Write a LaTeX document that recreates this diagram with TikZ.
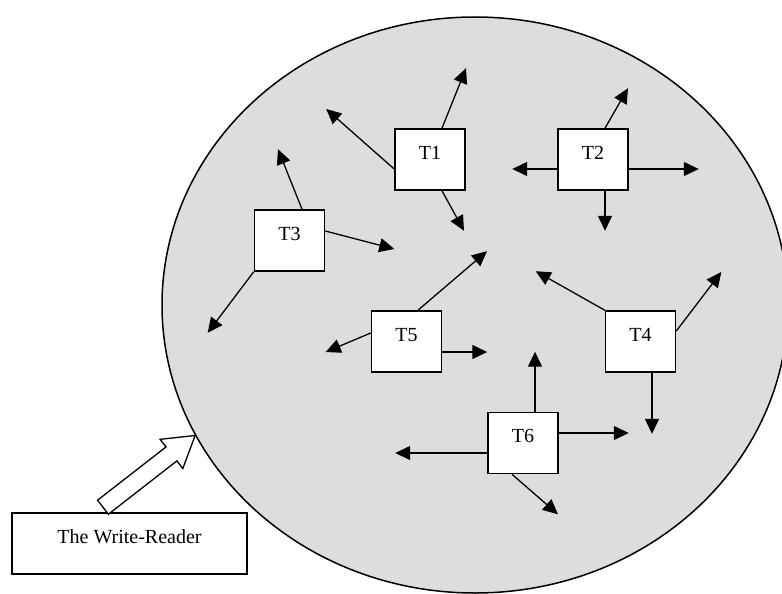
\documentclass[tikz,border=0pt]{standalone}
\usepackage{fontspec}
\setmainfont{Liberation Serif}
\usetikzlibrary{arrows.meta,shapes.geometric,calc}
\definecolor{poolgray}{RGB}{221,221,221}

\begin{document}
\begin{tikzpicture}[x=1pt,y=-1pt,
  tbox/.style={draw,line width=1.6pt,fill=white,minimum width=70pt,inner xsep=0pt,inner ysep=0pt,
    text height=30pt,text depth=31pt,font=\fontsize{20}{24}\selectfont},
  flow/.style={line width=1.3pt,-{Triangle[length=15pt,width=14pt]}},
  hollow/.style={draw,line width=1.3pt,fill=white}]
  \useasboundingbox (0,0) rectangle (782,594);
  \node[ellipse,draw,line width=1.5pt,fill=poolgray,minimum width=626pt,minimum height=576pt,inner sep=0pt] (pool) at (475,305) {};
  \node[tbox] (T1) at (430,159.5) {T1};
  \node[tbox] (T2) at (593,159.5) {T2};
  \node[tbox] (T3) at (289.5,240.5) {T3};
  \node[tbox] (T5) at (406.5,341.5) {T5};
  \node[tbox] (T4) at (640.5,341.5) {T4};
  \node[tbox] (T6) at (523,443) {T6};
  \draw[flow] ([xshift=12pt]T1.north) -- ++(24,-60);
  \draw[flow] ([yshift=-9.5pt]T1.west) -- ++(-68,-60);
  \draw[flow] ([xshift=12pt]T1.south) -- ++(22,40);
  \draw[flow] ([xshift=12pt]T2.north) -- ++(23,-40);
  \draw[flow] ([yshift=-9.5pt]T2.west) -- ++(-45,0);
  \draw[flow] ([yshift=-9.5pt]T2.east) -- ++(70,0);
  \draw[flow] ([xshift=12pt]T2.south) -- ++(0,40);
  \draw[flow] ([xshift=12.5pt]T3.north) -- ++(-24,-60);
  \draw[flow] ([yshift=9.5pt]T3.east) -- ++(69,18);
  \draw[flow] (T3.south west) -- ++(-46,61);
  \draw[flow] ([xshift=11.5pt]T5.north) -- ++(69,-59);
  \draw[flow] ([yshift=8.5pt]T5.west) -- ++(-45,19);
  \draw[flow] ([yshift=-10.5pt]T5.east) -- ++(45,0);
  \draw[flow] (T4.north west) -- ++(-69,-39);
  \draw[flow] ([yshift=10.5pt]T4.east) -- ++(45,-59);
  \draw[flow] ([xshift=11.5pt]T4.south) -- ++(0,61);
  \draw[flow] ([xshift=12pt]T6.north) -- ++(0,-60);
  \draw[flow] ([yshift=10pt]T6.east) -- ++(70,0);
  \draw[flow] ([yshift=-10pt]T6.west) -- ++(-92,0);
  \draw[flow] ([xshift=-11pt]T6.south) -- ++(46,40);
  \node[tbox,minimum width=235pt] (WR) at (129.5,543.5) {The Write-Reader};
  \coordinate (wrtail) at ([xshift=-26.5pt,yshift=5pt]WR.north);
  \coordinate (wrtip) at (pool.205);
  \coordinate (wrbase) at ($(wrtip)!30pt!(wrtail)$);
  \draw[hollow] ($(wrtail)!8.85pt!90:(wrtip)$) -- ($(wrbase)!8.85pt!90:(wrtip)$)
    -- ($(wrbase)!18.5pt!90:(wrtip)$) -- (wrtip) -- ($(wrbase)!18.5pt!-90:(wrtip)$)
    -- ($(wrbase)!8.85pt!-90:(wrtip)$) -- ($(wrtail)!8.85pt!-90:(wrtip)$) -- cycle;
\end{tikzpicture}
\end{document}
